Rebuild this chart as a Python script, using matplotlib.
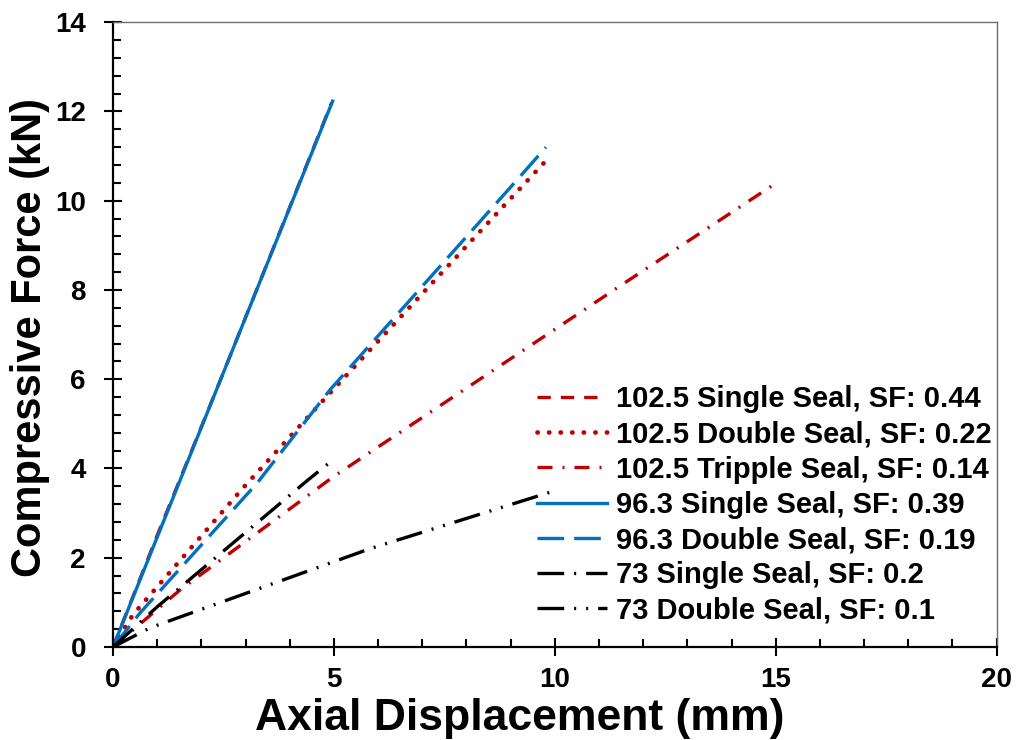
import matplotlib
matplotlib.use("Agg")
import matplotlib.pyplot as plt
from matplotlib.ticker import MultipleLocator

plt.rcParams['font.family'] = ['Liberation Sans', 'DejaVu Sans']
plt.rcParams['font.weight'] = 'bold'

# displacement (mm) / force (kN) readings for each seal test
x_1025_single = [0, 1.0, 2.5, 4.95]
y_1025_single = [0, 2.5, 6.15, 12.2]
x_1025_double = [0, 0.45, 2.94, 4.91, 9.03, 9.85]
y_1025_double = [0, 0.72, 3.56, 5.69, 10.08, 10.95]
x_1025_triple = [0, 1.52, 4.98, 11.4, 15.0]
y_1025_triple = [0, 1.28, 3.81, 8.04, 10.39]
x_963_single = [0, 2.5, 4.97]
y_963_single = [0, 6.15, 12.23]
x_963_double = [0, 0.61, 3.26, 4.91, 9.14, 9.8]
y_963_double = [0, 0.76, 3.67, 5.76, 10.46, 11.2]
x_73_single = [0, 1.0, 4.41, 4.95]
y_73_single = [0, 0.9, 3.74, 4.17]
x_73_double = [0, 0.84, 5.81, 9.9]
y_73_double = [0, 0.43, 2.2, 3.47]

labels = ['102.5 Single Seal, SF: 0.44',
          '102.5 Double Seal, SF: 0.22',
          '102.5 Tripple Seal, SF: 0.14',
          '96.3 Single Seal, SF: 0.39',
          '96.3 Double Seal, SF: 0.19',
          '73 Single Seal, SF: 0.2',
          '73 Double Seal, SF: 0.1']

red = '#C00000'
blue = '#0070C0'
lw = 2.4

fig = plt.figure(figsize=(10.18, 7.4), dpi=100)
ax = fig.add_axes([0.111, 0.1257, 0.868, 0.8443])

ax.plot(x_1025_single, y_1025_single, color=red, lw=lw, ls=(0, (4, 3)), label=labels[0])
ax.plot(x_1025_double, y_1025_double, color=red, lw=lw + 1.0, ls=(0, (0.05, 2.4)),
        dash_capstyle='round', label=labels[1])
ax.plot(x_1025_triple, y_1025_triple, color=red, lw=lw, ls=(0, (4.5, 3, 0.6, 3)), label=labels[2])
ax.plot(x_963_single, y_963_single, color=blue, lw=lw, ls='-', label=labels[3])
ax.plot(x_963_double, y_963_double, color=blue, lw=lw, ls=(0, (8, 3)), label=labels[4])
ax.plot(x_73_single, y_73_single, color='black', lw=lw, ls=(0, (8, 3, 0.6, 3)), label=labels[5])
ax.plot(x_73_double, y_73_double, color='black', lw=lw, ls=(0, (8, 3, 0.6, 3, 0.6, 3)), label=labels[6])

ax.set_xlim(0, 20)
ax.set_ylim(0, 14)
ax.xaxis.set_major_locator(MultipleLocator(5))
ax.xaxis.set_minor_locator(MultipleLocator(1))
ax.yaxis.set_major_locator(MultipleLocator(2))
ax.yaxis.set_minor_locator(MultipleLocator(0.4))

ax.tick_params(which='major', direction='inout', length=13, width=1.5, labelsize=20)
ax.tick_params(axis='y', which='major', pad=13)
ax.tick_params(axis='x', which='major', pad=8)
ax.tick_params(which='minor', direction='in', length=6, width=1.5)

for side in ['left', 'bottom']:
    ax.spines[side].set_linewidth(1.6)
    ax.spines[side].set_color('black')
for side in ['top', 'right']:
    ax.spines[side].set_linewidth(1.0)
    ax.spines[side].set_color('#6e6e6e')

ax.set_xlabel('Axial Displacement (mm)', fontsize=32, fontweight='bold')
ax.set_ylabel('Compressive Force (kN)', fontsize=30, fontweight='bold')
ax.xaxis.set_label_coords(0.46, -0.115)
ax.yaxis.set_label_coords(-0.094, 0.496)
ax.xaxis.label.set_va('center')
ax.yaxis.label.set_va('center')

ax.legend(loc='lower right', frameon=False, fontsize=21, handlelength=2.4,
          handletextpad=0.3, labelspacing=0.25, borderaxespad=0.15,
          bbox_to_anchor=(1.012, 0.01))

fig.savefig('out.png', dpi=100)
